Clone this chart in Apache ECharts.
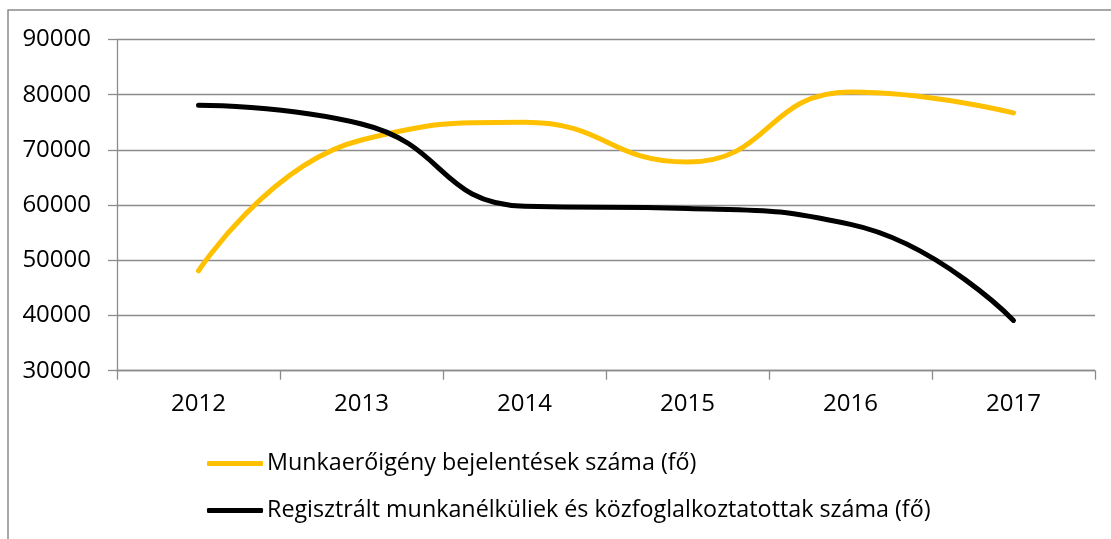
<!DOCTYPE html>
<html>
<head>
<meta charset="utf-8">
<script src="https://cdn.jsdelivr.net/npm/echarts@6/dist/echarts.min.js"></script>
<style>
html,body{margin:0;padding:0;background:#fff;}
#chart{width:1111px;height:539px;}
</style>
</head>
<body>
<div id="chart"></div>
<script>
const categories = ['2012', '2013', '2014', '2015', '2016', '2017'];
const seriesNames = ['Munkaerőigény bejelentések száma (fő)', 'Regisztrált munkanélküliek és közfoglalkoztatottak száma (fő)'];
const demandValues = [48100, 71800, 75000, 67800, 80500, 76700];
const unemployedValues = [78100, 74700, 59800, 59400, 56500, 39100];

const chart = echarts.init(document.getElementById('chart'), null, {renderer: 'canvas'});
const FONT = '"Open Sans", sans-serif';
chart.setOption({
  animation: false,
  backgroundColor: '#fff',
  graphic: [{
    type: 'rect',
    shape: {x: 8, y: 10, width: 1200, height: 600},
    style: {fill: 'none', stroke: '#8a8a8a', lineWidth: 1.5},
    silent: true
  }],
  grid: {left: 117, right: 16, top: 39.5, bottom: 168.3, containLabel: false},
  xAxis: {
    type: 'category',
    data: categories,
    boundaryGap: true,
    axisLine: {lineStyle: {color: '#8c8c8c', width: 1.3}},
    axisTick: {show: true, length: 9, lineStyle: {color: '#8c8c8c', width: 1.3}},
    axisLabel: {color: '#000', fontFamily: FONT, fontSize: 24, margin: 21}
  },
  yAxis: {
    type: 'value',
    min: 30000, max: 90000, interval: 10000,
    axisLine: {show: true, lineStyle: {color: '#8c8c8c', width: 1.3}},
    axisTick: {show: true, length: 9, lineStyle: {color: '#8c8c8c', width: 1.3}},
    axisLabel: {color: '#000', fontFamily: FONT, fontSize: 24, margin: 26, formatter: function (v) { return String(v); }},
    splitLine: {lineStyle: {color: '#8c8c8c', width: 1.3}}
  },
  legend: {
    orient: 'vertical',
    left: 207, top: 452,
    padding: 0,
    icon: 'roundRect',
    itemWidth: 56, itemHeight: 5,
    itemGap: 24,
    textStyle: {color: '#000', fontFamily: FONT, fontSize: 23.3, padding: [0, 0, 0, -1]},
    data: seriesNames
  },
  series: [
    {
      name: seriesNames[0], type: 'line', data: demandValues,
      smooth: 0.5, symbol: 'none',
      itemStyle: {color: '#FFC000'},
      lineStyle: {color: '#FFC000', width: 5, cap: 'round', join: 'round'}
    },
    {
      name: seriesNames[1], type: 'line', data: unemployedValues,
      smooth: 0.5, symbol: 'none',
      itemStyle: {color: '#000000'},
      lineStyle: {color: '#000000', width: 5, cap: 'round', join: 'round'}
    }
  ]
});
</script>
</body>
</html>
